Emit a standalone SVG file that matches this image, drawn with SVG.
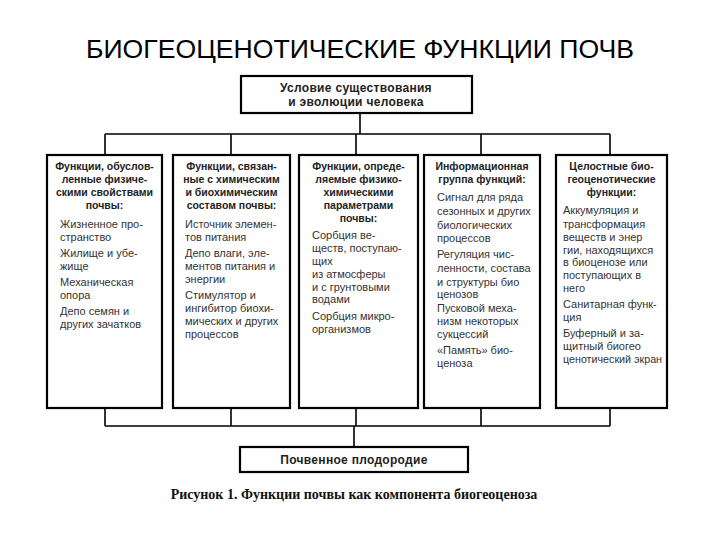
<svg xmlns="http://www.w3.org/2000/svg" width="720" height="540" viewBox="0 0 720 540">
<style>
.box{fill:#fff;stroke:#000;stroke-width:2.2}
.ln{stroke:#000;stroke-width:1.6;fill:none}
.title{font-family:"Liberation Sans",Arial,sans-serif;font-size:25px;fill:#000}
.hb{font-family:"Liberation Sans",Arial,sans-serif;font-size:12px;font-weight:bold;fill:#222;text-anchor:middle;letter-spacing:0.3px}
.h{font-family:"Liberation Sans",Arial,sans-serif;font-size:10.5px;font-weight:bold;fill:#222;text-anchor:middle}
.b{font-family:"Liberation Sans",Arial,sans-serif;font-size:11px;fill:#333}
.cap{font-family:"Liberation Serif","Times New Roman",serif;font-size:14px;font-weight:bold;fill:#111;text-anchor:middle}
</style>
<rect width="720" height="540" fill="#fff"/>
<text class="title" x="360" y="58" text-anchor="middle" textLength="548" lengthAdjust="spacingAndGlyphs">БИОГЕОЦЕНОТИЧЕСКИЕ ФУНКЦИИ ПОЧВ</text>
<g id="connectors">
<path class="ln" d="M360 113V134M105 134H610M105 134V155M231 134V155M356 134V155M481 134V155M610 134V155"/>
<path class="ln" d="M105 408V426M231 408V426M356 408V426M481 408V426M610 408V426M105 426H610M354 426V447"/>
</g>
<g id="top">
<rect class="box" x="241" y="76" width="231" height="37"/>
<text class="hb" x="356" y="92">Условие существования</text>
<text class="hb" x="356" y="106">и эволюции человека</text>
</g>
<g id="col1">
<rect class="box" x="47" y="155" width="115" height="253"/>
<text class="h" x="104.5" y="170">Функции, обуслов-</text>
<text class="h" x="104.5" y="183">ленные физиче-</text>
<text class="h" x="104.5" y="196">скими свойствами</text>
<text class="h" x="104.5" y="209">почвы:</text>
<text class="b" x="60" y="228">Жизненное про-</text>
<text class="b" x="60" y="241">странство</text>
<text class="b" x="60" y="257">Жилище и убе-</text>
<text class="b" x="60" y="270">жище</text>
<text class="b" x="60" y="286">Механическая</text>
<text class="b" x="60" y="299">опора</text>
<text class="b" x="60" y="315">Депо семян и</text>
<text class="b" x="60" y="328">других зачатков</text>
</g>
<g id="col2">
<rect class="box" x="173" y="155" width="117" height="253"/>
<text class="h" x="231.5" y="170">Функции, связан-</text>
<text class="h" x="231.5" y="183">ные с химическим</text>
<text class="h" x="231.5" y="196">и биохимическим</text>
<text class="h" x="231.5" y="209">составом почвы:</text>
<text class="b" x="185" y="228">Источник элемен-</text>
<text class="b" x="185" y="241">тов питания</text>
<text class="b" x="185" y="257">Депо влаги, эле-</text>
<text class="b" x="185" y="270">ментов питания и</text>
<text class="b" x="185" y="283">энергии</text>
<text class="b" x="185" y="299">Стимулятор и</text>
<text class="b" x="185" y="312">ингибитор биохи-</text>
<text class="b" x="185" y="325">мических и других</text>
<text class="b" x="185" y="338">процессов</text>
</g>
<g id="col3">
<rect class="box" x="299" y="155" width="119" height="253"/>
<text class="h" x="358.5" y="170">Функции, опреде-</text>
<text class="h" x="358.5" y="183">ляемые физико-</text>
<text class="h" x="358.5" y="196">химическими</text>
<text class="h" x="358.5" y="209">параметрами</text>
<text class="h" x="358.5" y="222">почвы:</text>
<text class="b" x="312" y="239">Сорбция ве-</text>
<text class="b" x="312" y="252">ществ, поступаю-</text>
<text class="b" x="312" y="265">щих</text>
<text class="b" x="312" y="278">из атмосферы</text>
<text class="b" x="312" y="291">и с грунтовыми</text>
<text class="b" x="312" y="303">водами</text>
<text class="b" x="312" y="320">Сорбция микро-</text>
<text class="b" x="312" y="333">организмов</text>
</g>
<g id="col4">
<rect class="box" x="424" y="155" width="116" height="253"/>
<text class="h" x="482" y="170">Информационная</text>
<text class="h" x="482" y="183">группа функций:</text>
<text class="b" x="437" y="201">Сигнал для ряда</text>
<text class="b" x="437" y="215">сезонных и других</text>
<text class="b" x="437" y="229">биологических</text>
<text class="b" x="437" y="242">процессов</text>
<text class="b" x="437" y="258">Регуляция чис-</text>
<text class="b" x="437" y="272">ленности, состава</text>
<text class="b" x="437" y="286">и структуры био</text>
<text class="b" x="437" y="298">ценозов</text>
<text class="b" x="437" y="312">Пусковой меха-</text>
<text class="b" x="437" y="325">низм некоторых</text>
<text class="b" x="437" y="338">сукцессий</text>
<text class="b" x="437" y="354">«Память» био-</text>
<text class="b" x="437" y="367">ценоза</text>
</g>
<g id="col5">
<rect class="box" x="556" y="155" width="111" height="253"/>
<text class="h" x="611.5" y="170">Целостные био-</text>
<text class="h" x="611.5" y="183">геоценотические</text>
<text class="h" x="611.5" y="196">функции:</text>
<text class="b" x="563" y="214">Аккумуляция и</text>
<text class="b" x="563" y="228">трансформация</text>
<text class="b" x="563" y="241">веществ и энер</text>
<text class="b" x="563" y="254">гии, находящихся</text>
<text class="b" x="563" y="266">в биоценозе или</text>
<text class="b" x="563" y="279">поступающих в</text>
<text class="b" x="563" y="292">него</text>
<text class="b" x="563" y="308">Санитарная функ-</text>
<text class="b" x="563" y="321">ция</text>
<text class="b" x="563" y="337">Буферный и за-</text>
<text class="b" x="563" y="350">щитный биогео</text>
<text class="b" x="563" y="363" textLength="99" lengthAdjust="spacingAndGlyphs">ценотический экран</text>
</g>
<g id="bottom">
<rect class="box" x="240" y="447" width="228" height="25"/>
<text class="hb" x="354" y="464">Почвенное плодородие</text>
</g>
<text class="cap" x="354" y="499">Рисунок 1. Функции почвы как компонента биогеоценоза</text>
</svg>
